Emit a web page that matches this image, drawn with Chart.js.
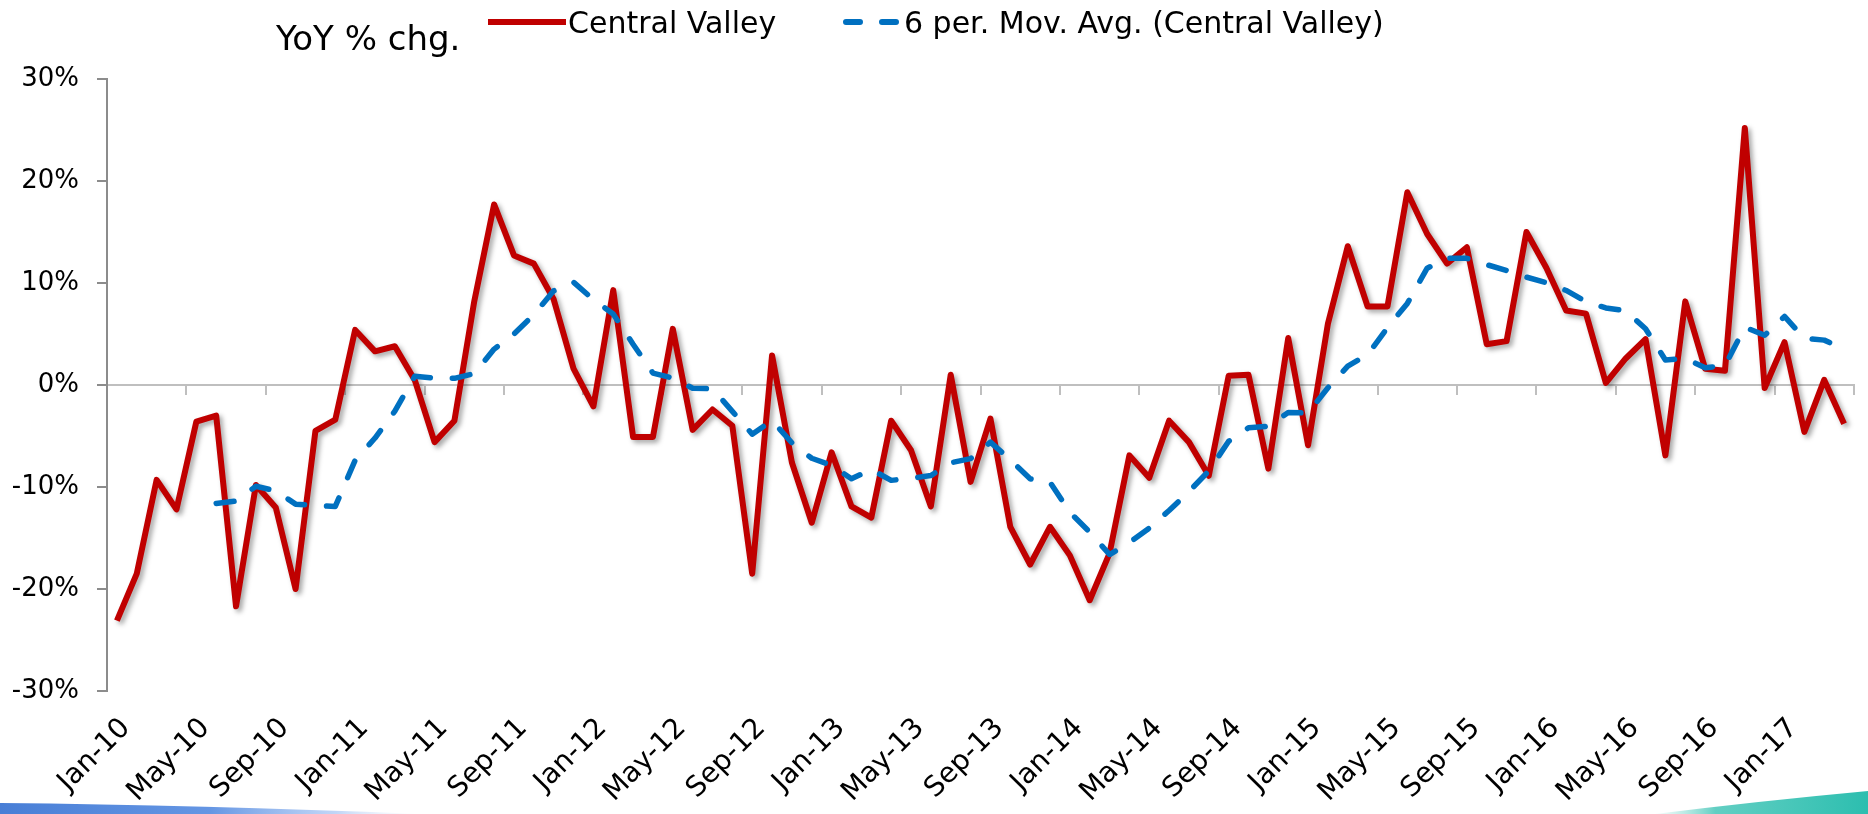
<!DOCTYPE html>
<html>
<head>
<meta charset="utf-8">
<script src="https://cdn.jsdelivr.net/npm/chart.js@4.4.1/dist/chart.umd.min.js"></script>
<style>
  html, body { margin: 0; padding: 0; background: #ffffff; }
  #wrap { position: relative; width: 1868px; height: 814px; }
  canvas { display: block; }
</style>
</head>
<body>
<div id="wrap"><canvas id="chart" width="1868" height="814"></canvas></div>
<script>
// ---------- DATA ----------
const months = [
  "Jan-10","Feb-10","Mar-10","Apr-10","May-10","Jun-10","Jul-10","Aug-10","Sep-10","Oct-10","Nov-10","Dec-10",
  "Jan-11","Feb-11","Mar-11","Apr-11","May-11","Jun-11","Jul-11","Aug-11","Sep-11","Oct-11","Nov-11","Dec-11",
  "Jan-12","Feb-12","Mar-12","Apr-12","May-12","Jun-12","Jul-12","Aug-12","Sep-12","Oct-12","Nov-12","Dec-12",
  "Jan-13","Feb-13","Mar-13","Apr-13","May-13","Jun-13","Jul-13","Aug-13","Sep-13","Oct-13","Nov-13","Dec-13",
  "Jan-14","Feb-14","Mar-14","Apr-14","May-14","Jun-14","Jul-14","Aug-14","Sep-14","Oct-14","Nov-14","Dec-14",
  "Jan-15","Feb-15","Mar-15","Apr-15","May-15","Jun-15","Jul-15","Aug-15","Sep-15","Oct-15","Nov-15","Dec-15",
  "Jan-16","Feb-16","Mar-16","Apr-16","May-16","Jun-16","Jul-16","Aug-16","Sep-16","Oct-16","Nov-16","Dec-16",
  "Jan-17","Feb-17","Mar-17","Apr-17"
];

// YoY % change, Central Valley
const centralValley = [
  -23.1, -18.5,  -9.3, -12.2,  -3.6,  -3.0, -21.7,  -9.8, -12.0, -20.0,  -4.5,  -3.4,
    5.4,   3.3,   3.8,   0.5,  -5.6,  -3.5,   8.2,  17.7,  12.7,  11.9,   8.4,   1.6,
   -2.1,   9.3,  -5.1,  -5.1,   5.5,  -4.4,  -2.4,  -4.0, -18.5,   2.9,  -7.6, -13.5,
   -6.6, -11.9, -13.0,  -3.5,  -6.4, -11.9,   1.0,  -9.5,  -3.3, -13.9, -17.6, -13.9,
  -16.7, -21.1, -16.5,  -6.9,  -9.1,  -3.5,  -5.6,  -8.9,   0.9,   1.0,  -8.2,   4.6,
   -5.9,   6.0,  13.6,   7.7,   7.7,  18.9,  14.8,  11.9,  13.5,   4.0,   4.3,  15.0,
   11.5,   7.3,   7.0,   0.2,   2.6,   4.5,  -6.9,   8.2,   1.6,   1.4,  25.2,  -0.3,
    4.2,  -4.6,   0.5,  -3.8
];

// 6 per. Mov. Avg. (Central Valley), values as plotted
const movingAvg6 = [
   null,   null,   null,   null,   null, -11.62, -11.38,  -9.93, -10.38, -11.68, -11.83, -11.90,
  -7.38,  -5.20,  -2.57,   0.85,   0.67,   0.65,   1.12,   3.52,   5.00,   6.90,   9.23,  10.08,
   8.37,   6.97,   4.00,   1.17,   0.68,  -0.32,  -0.37,  -2.58,  -4.82,  -3.48,  -5.67,  -7.18,
  -7.88,  -9.20,  -8.28,  -9.35,  -9.15,  -8.88,  -7.62,  -7.22,  -5.60,  -7.33,  -9.20,  -9.53,
 -12.48, -14.42, -16.62, -15.45, -14.03, -12.30, -10.45,  -8.42,  -5.52,  -4.20,  -4.05,  -2.70,
  -2.75,  -0.27,   1.85,   2.97,   5.62,   8.00,  11.45,  12.43,  12.42,  11.80,  11.23,  10.58,
  10.03,   9.27,   8.18,   7.55,   7.27,   5.52,   2.45,   2.60,   1.70,   1.90,   5.67,   4.87,
   6.72,   4.58,   4.40,   3.53
];

const yAxisMin = -30;
const yAxisMax = 30;
const yAxisStep = 10;
const labelEvery = 4;   // a category label / tick mark every 4 months

const seriesNames = ["Central Valley", "6 per. Mov. Avg. (Central Valley)"];
const chartTitle = "YoY % chg.";

// ---------- STYLE ----------
const RED = "#C00000";
const BLUE = "#0070C0";
const AXIS_GRAY = "#8C8C8C";
const ZERO_GRAY = "#BFBFBF";
const FONT = '"DejaVu Sans", "Liberation Sans", sans-serif';

// decorative slide background (bottom corners)
const decoPlugin = {
  id: "deco",
  beforeDraw(chart) {
    const ctx = chart.ctx;
    ctx.save();
    ctx.fillStyle = "#ffffff";
    ctx.fillRect(0, 0, chart.width, chart.height);
    // bottom-left blue sweep
    let g = ctx.createLinearGradient(0, 0, 420, 0);
    g.addColorStop(0, "rgba(72,126,214,1)");
    g.addColorStop(0.5, "rgba(92,144,226,0.95)");
    g.addColorStop(0.8, "rgba(150,185,240,0.6)");
    g.addColorStop(1, "rgba(220,232,252,0)");
    ctx.fillStyle = g;
    ctx.beginPath();
    ctx.moveTo(0, 803);
    ctx.quadraticCurveTo(200, 805, 420, 814);
    ctx.lineTo(0, 814);
    ctx.closePath();
    ctx.fill();
    // bottom-right teal sweep
    g = ctx.createLinearGradient(1650, 0, 1868, 0);
    g.addColorStop(0, "rgba(140,220,210,0)");
    g.addColorStop(0.3, "rgba(70,198,184,0.85)");
    g.addColorStop(1, "rgba(44,190,175,1)");
    ctx.fillStyle = g;
    ctx.beginPath();
    ctx.moveTo(1655, 814);
    ctx.quadraticCurveTo(1760, 801, 1868, 791);
    ctx.lineTo(1868, 814);
    ctx.closePath();
    ctx.fill();
    ctx.restore();
  }
};

// drop shadow under the main series line
const shadowPlugin = {
  id: "lineShadow",
  beforeDatasetDraw(chart, args) {
    if (args.index !== 0) return;
    const ctx = chart.ctx;
    ctx.save();
    ctx.shadowColor = "rgba(0,0,0,0.35)";
    ctx.shadowBlur = 5;
    ctx.shadowOffsetX = 3;
    ctx.shadowOffsetY = 3;
  },
  afterDatasetDraw(chart, args) {
    if (args.index !== 0) return;
    chart.ctx.restore();
  }
};

// title + legend row
const headerPlugin = {
  id: "header",
  afterDraw(chart) {
    const ctx = chart.ctx;
    const ds = chart.data.datasets;
    ctx.save();
    ctx.fillStyle = "#000000";
    ctx.textBaseline = "alphabetic";
    ctx.textAlign = "left";
    ctx.font = "34px " + FONT;
    ctx.fillText(chartTitle, 276, 50);

    // series 1 swatch
    ctx.lineCap = "butt";
    ctx.strokeStyle = ds[0].borderColor;
    ctx.lineWidth = 6;
    ctx.beginPath();
    ctx.moveTo(488, 22);
    ctx.lineTo(566, 22);
    ctx.stroke();
    ctx.font = "30px " + FONT;
    ctx.fillText(ds[0].label, 568, 33);

    // series 2 swatch (dashed)
    ctx.strokeStyle = ds[1].borderColor;
    ctx.lineWidth = 6;
    ctx.lineCap = "round";
    ctx.setLineDash([14, 22]);
    ctx.beginPath();
    ctx.moveTo(846, 22);
    ctx.lineTo(900, 22);
    ctx.stroke();
    ctx.setLineDash([]);
    ctx.fillText(ds[1].label, 904, 33);
    ctx.restore();
  }
};

new Chart(document.getElementById("chart"), {
  type: "line",
  data: {
    labels: months,
    datasets: [
      {
        label: seriesNames[0],
        data: centralValley,
        borderColor: RED,
        backgroundColor: RED,
        borderWidth: 6,
        pointRadius: 0,
        tension: 0,
        borderJoinStyle: "round",
        xAxisID: "x",
        yAxisID: "y",
        order: 2
      },
      {
        label: seriesNames[1],
        data: movingAvg6,
        borderColor: BLUE,
        backgroundColor: BLUE,
        borderWidth: 5.5,
        borderDash: [18, 22],
        borderCapStyle: "round",
        borderJoinStyle: "round",
        pointRadius: 0,
        tension: 0,
        spanGaps: false,
        xAxisID: "x",
        yAxisID: "y",
        order: 1
      }
    ]
  },
  options: {
    responsive: false,
    animation: false,
    devicePixelRatio: 1,
    layout: { padding: { top: 79, right: 14, bottom: 0, left: 0 } },
    plugins: {
      legend: { display: false },
      title: { display: false },
      tooltip: { enabled: false }
    },
    scales: {
      x: {
        type: "category",
        position: "bottom",
        offset: true,
        grid: { display: false, drawTicks: false },
        border: { display: false },
        ticks: {
          autoSkip: false,
          maxRotation: 45,
          minRotation: 45,
          padding: 21,
          labelOffset: 9,
          color: "#000000",
          font: { family: FONT, size: 28 },
          callback: function (value, index) {
            return index % labelEvery === 0 ? this.getLabelForValue(value) : "";
          }
        },
        afterFit(scale) {
          scale.height = 123;
          scale.paddingLeft = 0;
          scale.paddingRight = 0;
        }
      },
      xZero: {
        type: "category",
        position: { y: 0 },
        offset: true,
        ticks: { display: false },
        grid: {
          display: true,
          offset: true,
          drawOnChartArea: false,
          drawTicks: true,
          tickLength: 9,
          lineWidth: 2,
          tickWidth: 2,
          color: "rgba(0,0,0,0)",
          tickColor: (ctx) => (ctx.index === undefined || ctx.index % labelEvery === 0) ? ZERO_GRAY : "rgba(0,0,0,0)"
        },
        border: { display: true, color: ZERO_GRAY, width: 2 }
      },
      y: {
        type: "linear",
        position: "left",
        min: yAxisMin,
        max: yAxisMax,
        ticks: {
          stepSize: yAxisStep,
          padding: 18,
          color: "#000000",
          font: { family: FONT, size: 26 },
          callback: (v) => v + "%"
        },
        grid: {
          drawOnChartArea: false,
          drawTicks: true,
          tickLength: 10,
          lineWidth: 2,
          tickWidth: 2,
          color: AXIS_GRAY,
          tickColor: AXIS_GRAY
        },
        border: { display: true, color: AXIS_GRAY, width: 2 },
        afterFit(scale) { scale.width = 107; }
      }
    }
  },
  plugins: [decoPlugin, shadowPlugin, headerPlugin]
});
</script>
</body>
</html>
